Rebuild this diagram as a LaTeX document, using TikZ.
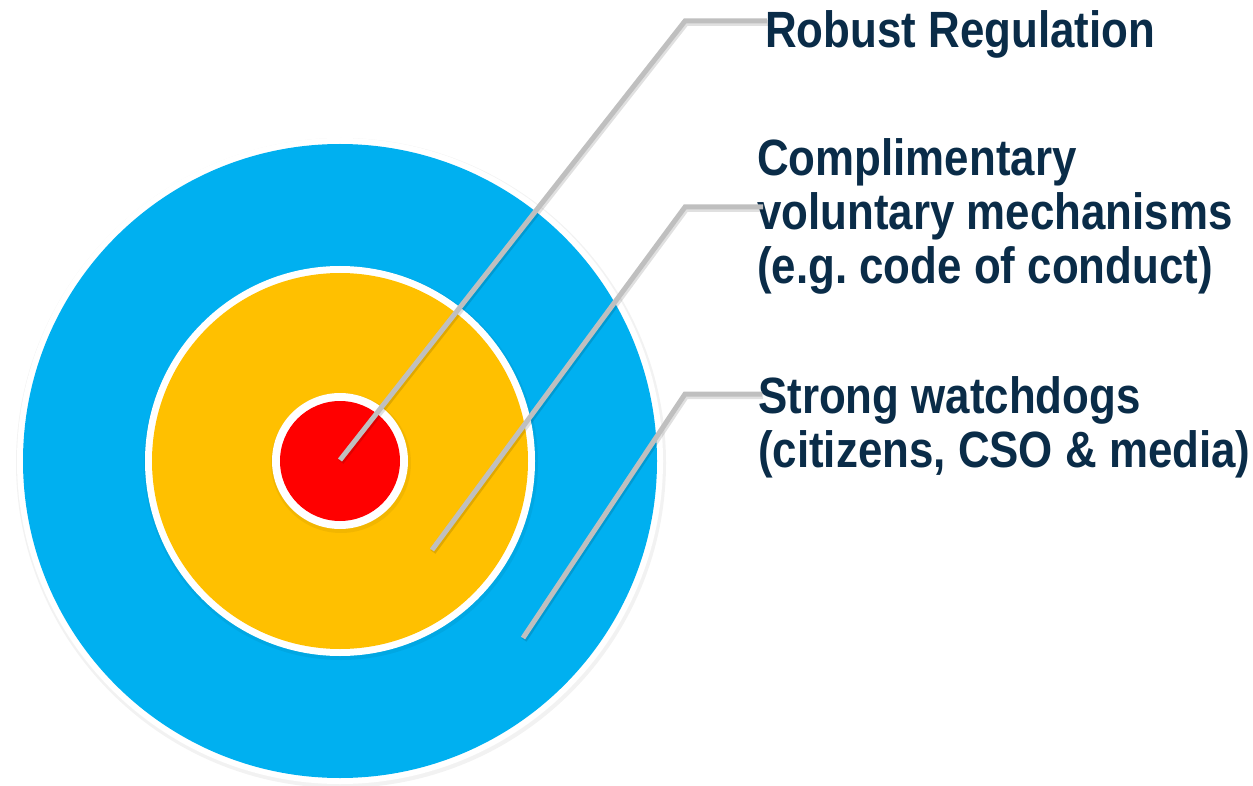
\documentclass[tikz,border=0pt]{standalone}
\usepackage{fontspec}
\usetikzlibrary{calc}
\newfontfamily\lblfont[FakeStretch=0.86]{Liberation Sans}
\definecolor{ringblue}{HTML}{00B0F0}
\definecolor{ringyellow}{HTML}{FFC000}
\definecolor{ringred}{HTML}{FF0000}
\definecolor{navy}{HTML}{0A2C48}
\definecolor{leader}{HTML}{BFBFBF}
\begin{document}
\frenchspacing
\begin{tikzpicture}[x=1pt,y=-1pt,
  lbl/.style={anchor=base west,inner sep=0pt,text=navy,font=\lblfont\bfseries\fontsize{51}{54}\selectfont\frenchspacing},
  leaderline/.style={draw=leader,line width=5pt,line join=miter},
  leadershadow/.style={draw=black,opacity=0.12,line width=6pt,line join=miter},
  ringshadow/.style={fill=black,opacity=0.05}]
\useasboundingbox (0,0) rectangle (1253,786);
\coordinate (c) at (340,461);
% outer ring
\fill[ringshadow] ($(c)+(1,2)$) circle (325);
\fill[white] (c) circle (323);
\fill[ringblue] (c) circle (317);
% middle ring
\fill[ringshadow] ($(c)+(1,2)$) circle (197);
\fill[white] (c) circle (195);
\fill[ringyellow] (c) circle (188);
% inner
\fill[ringshadow] ($(c)+(1,2)$) circle (70);
\fill[white] (c) circle (68);
\fill[ringred] (c) circle (60);
% label nodes
\node[lbl] (t1) at (765,48) {Robust Regulation};
\node[lbl] (t2a) at (757,176) {Complimentary};
\node[lbl] (t2b) at (757,230) {voluntary mechanisms};
\node[lbl] (t2c) at (757,284) {(e.g. code of conduct)};
\node[lbl] (t3a) at (758,413) {Strong watchdogs};
\node[lbl] (t3b) at (758,467) {(citizens, CSO \& media)};
% leader coordinates
\coordinate (p1) at (340,460);
\coordinate (k1) at (685,21);
\coordinate (e1) at (767,21);
\coordinate (p2) at (432,550);
\coordinate (k2) at (685,207);
\coordinate (e2) at (763,207);
\coordinate (p3) at (523,638);
\coordinate (k3) at (685,394);
\coordinate (e3) at (762,394);
\foreach \i in {1,2,3}{
  \draw[leadershadow] ($(p\i)+(1,2)$) -- ($(k\i)+(1,2)$) -- ($(e\i)+(1,2)$);
  \draw[leaderline] (p\i) -- (k\i) -- (e\i);
}
\end{tikzpicture}
\end{document}
